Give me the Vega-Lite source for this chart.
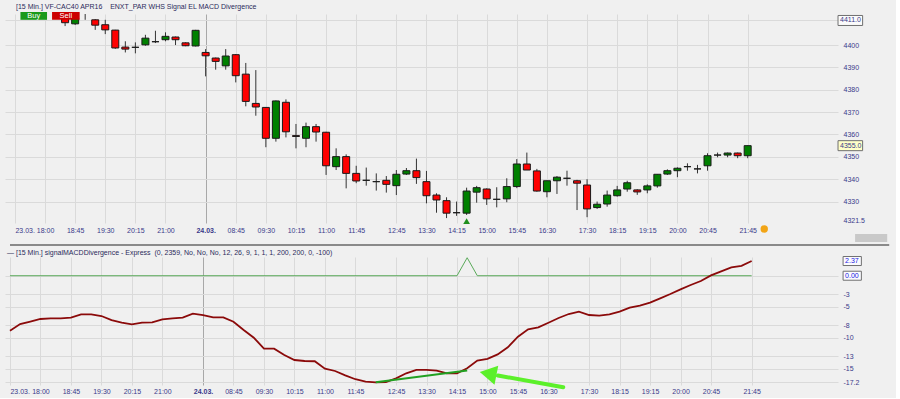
{
  "$schema": "https://vega.github.io/schema/vega-lite/v6.json",
  "background": "#f0f0f0",
  "padding": {"left": 5, "top": 2, "right": 5, "bottom": 2},
  "config": {
    "view": {"stroke": null, "fill": "#f0f0f0"},
    "font": "Liberation Sans Narrow, Liberation Sans",
    "axis": {"labelFont": "Liberation Sans Narrow, Liberation Sans", "labelFontSize": 7, "labelColor": "#3a3a8a", "domain": false, "ticks": false, "title": null, "gridColor": "#dadada", "labelOverlap": false, "labelFlush": false, "tickCount": 200}
  },
  "bounds": "flush",
  "spacing": 34,
  "datasets": {
    "candles": [
      {"i":5,"o":4413,"h":4415,"l":4408.5,"c":4410},
      {"i":6,"o":4409.5,"h":4413,"l":4409,"c":4412},
      {"i":7,"o":4416,"h":4418,"l":4411.3,"c":4417},
      {"i":8,"o":4411.3,"h":4411.6,"l":4406.8,"c":4408.9},
      {"i":9,"o":4409.1,"h":4411.3,"l":4404.9,"c":4406.8},
      {"i":10,"o":4406.7,"h":4406.8,"l":4398.3,"c":4398.7},
      {"i":11,"o":4399.1,"h":4401.7,"l":4396.7,"c":4398.2},
      {"i":12,"o":4399,"h":4401.2,"l":4396.3,"c":4399},
      {"i":13,"o":4400.1,"h":4404.6,"l":4399.7,"c":4403.1},
      {"i":14,"o":4401.5,"h":4406.4,"l":4400.9,"c":4401.5},
      {"i":15,"o":4402.4,"h":4405.7,"l":4401.7,"c":4403.9},
      {"i":16,"o":4403.6,"h":4403.8,"l":4400,"c":4402.4},
      {"i":17,"o":4401,"h":4401.2,"l":4399.5,"c":4399.7},
      {"i":18,"o":4399.6,"h":4406.8,"l":4399.4,"c":4406.6},
      {"i":19,"o":4396.7,"h":4398.2,"l":4386,"c":4395.2},
      {"i":20,"o":4394.2,"h":4394.4,"l":4389,"c":4392.7},
      {"i":21,"o":4390.7,"h":4398.2,"l":4389,"c":4395.1},
      {"i":22,"o":4395.7,"h":4396,"l":4383.3,"c":4386.3},
      {"i":23,"o":4387,"h":4392,"l":4372.6,"c":4374.8},
      {"i":24,"o":4373.9,"h":4388.8,"l":4368.4,"c":4372.3},
      {"i":25,"o":4372.1,"h":4372.3,"l":4354.3,"c":4358.3},
      {"i":26,"o":4358.3,"h":4375.2,"l":4356.8,"c":4375},
      {"i":27,"o":4374.4,"h":4375.7,"l":4358.7,"c":4361.2},
      {"i":28,"o":4359.5,"h":4364.7,"l":4353.8,"c":4359.1},
      {"i":29,"o":4358.3,"h":4365.3,"l":4354.3,"c":4363.5},
      {"i":30,"o":4363.5,"h":4364.7,"l":4356.8,"c":4361.1},
      {"i":31,"o":4361,"h":4361.2,"l":4341.9,"c":4346},
      {"i":32,"o":4345.6,"h":4353.8,"l":4344.1,"c":4350.1},
      {"i":33,"o":4350.1,"h":4351.1,"l":4335.9,"c":4342.6},
      {"i":34,"o":4342.6,"h":4346,"l":4338.2,"c":4339.2},
      {"i":35,"o":4339.5,"h":4345.2,"l":4337.1,"c":4339.5},
      {"i":36,"o":4338.9,"h":4342.6,"l":4334.9,"c":4338.9},
      {"i":37,"o":4339.5,"h":4341.4,"l":4334,"c":4337.7},
      {"i":38,"o":4337.1,"h":4344.1,"l":4332.9,"c":4342.2},
      {"i":39,"o":4342.3,"h":4345,"l":4341.9,"c":4343.8},
      {"i":40,"o":4343.8,"h":4349.2,"l":4337.9,"c":4340.7},
      {"i":41,"o":4338.9,"h":4343.7,"l":4329.2,"c":4332.6},
      {"i":42,"o":4332.9,"h":4333.7,"l":4325,"c":4330.7},
      {"i":43,"o":4330.4,"h":4331.9,"l":4322.6,"c":4324.8},
      {"i":44,"o":4325,"h":4330,"l":4323.6,"c":4325},
      {"i":45,"o":4324.8,"h":4336.2,"l":4324,"c":4334.7},
      {"i":46,"o":4334.2,"h":4337,"l":4329.5,"c":4336.2},
      {"i":47,"o":4335.6,"h":4335.9,"l":4328.5,"c":4331.2},
      {"i":48,"o":4331,"h":4336.4,"l":4327.4,"c":4331},
      {"i":49,"o":4331.2,"h":4340.4,"l":4329.7,"c":4336.7},
      {"i":50,"o":4336.7,"h":4349,"l":4336,"c":4346.8},
      {"i":51,"o":4346.8,"h":4351.9,"l":4344.1,"c":4344.1},
      {"i":52,"o":4343.7,"h":4344.6,"l":4334.4,"c":4334.7},
      {"i":53,"o":4334.4,"h":4339.3,"l":4331.9,"c":4339.3},
      {"i":54,"o":4339.3,"h":4341.4,"l":4333.4,"c":4340.9},
      {"i":55,"o":4340.4,"h":4343.8,"l":4337.1,"c":4340.4},
      {"i":56,"o":4339.3,"h":4339.7,"l":4326.2,"c":4338.2},
      {"i":57,"o":4337.4,"h":4340,"l":4323,"c":4326.7},
      {"i":58,"o":4327.3,"h":4330,"l":4326.7,"c":4328.8},
      {"i":59,"o":4328.9,"h":4334.9,"l":4327.7,"c":4332.9},
      {"i":60,"o":4332.6,"h":4337,"l":4332.2,"c":4335.2},
      {"i":61,"o":4335.6,"h":4339.3,"l":4334.4,"c":4338.4},
      {"i":62,"o":4335.2,"h":4335.5,"l":4333,"c":4334.3},
      {"i":63,"o":4335.2,"h":4337.7,"l":4333.7,"c":4337},
      {"i":64,"o":4337,"h":4342.2,"l":4336.2,"c":4342.2},
      {"i":65,"o":4342.3,"h":4344.4,"l":4341.9,"c":4343.8},
      {"i":66,"o":4343.8,"h":4345.3,"l":4340.9,"c":4344.9},
      {"i":67,"o":4345.6,"h":4347.1,"l":4343.8,"c":4345.6},
      {"i":68,"o":4344.6,"h":4346.4,"l":4342.6,"c":4344.6},
      {"i":69,"o":4346,"h":4351.6,"l":4343.8,"c":4350.5},
      {"i":70,"o":4350.8,"h":4351.9,"l":4349.8,"c":4350.8},
      {"i":71,"o":4350.8,"h":4351.9,"l":4349.8,"c":4351.7},
      {"i":72,"o":4351.7,"h":4351.9,"l":4349.4,"c":4350.5},
      {"i":73,"o":4350.5,"h":4355,"l":4349.4,"c":4355}
    ],
    "signals": [{"i": 45, "p": 4321.2}],
    "buttons": [{"label": "Buy"}, {"label": "Sell"}],
    "pricemarks": [{"p": 4411, "label": "4411.0"}, {"p": 4355, "label": "4355.0"}],
    "macdmarks": [{"v": 2.37, "label": "2.37"}, {"v": 0, "label": "0.00"}],
    "macd": [
      {"i":0,"v":-8.87},{"i":1,"v":-7.8},{"i":2,"v":-7.4},{"i":3,"v":-6.98},{"i":4,"v":-6.88},
      {"i":5,"v":-6.88},{"i":6,"v":-6.77},{"i":7,"v":-6.23},{"i":8,"v":-6.23},{"i":9,"v":-6.5},
      {"i":10,"v":-7.15},{"i":11,"v":-7.58},{"i":12,"v":-7.84},{"i":13,"v":-7.58},{"i":14,"v":-7.52},
      {"i":15,"v":-7.04},{"i":16,"v":-6.88},{"i":17,"v":-6.77},{"i":18,"v":-6.12},{"i":19,"v":-6.34},
      {"i":20,"v":-6.71},{"i":21,"v":-6.71},{"i":22,"v":-7.42},{"i":23,"v":-8.76},{"i":24,"v":-10},
      {"i":25,"v":-11.77},{"i":26,"v":-11.77},{"i":27,"v":-12.8},{"i":28,"v":-13.6},{"i":29,"v":-13.76},
      {"i":30,"v":-13.8},{"i":31,"v":-15},{"i":32,"v":-15.37},{"i":33,"v":-16.07},{"i":34,"v":-16.7},
      {"i":35,"v":-17.1},{"i":36,"v":-17.2},{"i":37,"v":-17.15},{"i":38,"v":-16.55},{"i":39,"v":-15.74},
      {"i":40,"v":-15.2},{"i":41,"v":-15.2},{"i":42,"v":-15.3},{"i":43,"v":-15.74},{"i":44,"v":-15.74},
      {"i":45,"v":-14.94},{"i":46,"v":-13.7},{"i":47,"v":-13.4},{"i":48,"v":-12.7},{"i":49,"v":-11.55},
      {"i":50,"v":-9.84},{"i":51,"v":-8.65},{"i":52,"v":-8.33},{"i":53,"v":-7.58},{"i":54,"v":-6.82},
      {"i":55,"v":-6.18},{"i":56,"v":-5.8},{"i":57,"v":-6.34},{"i":58,"v":-6.45},{"i":59,"v":-6.23},
      {"i":60,"v":-5.8},{"i":61,"v":-5.16},{"i":62,"v":-4.84},{"i":63,"v":-4.35},{"i":64,"v":-3.65},
      {"i":65,"v":-2.95},{"i":66,"v":-2.2},{"i":67,"v":-1.5},{"i":68,"v":-0.85},{"i":69,"v":0.06},
      {"i":70,"v":0.7},{"i":71,"v":1.35},{"i":72,"v":1.6},{"i":73,"v":2.37}
    ],
    "sigline": [
      {"i":0,"s":0},{"i":44,"s":0},{"i":45,"s":2.9},{"i":46,"s":0},{"i":73,"s":0}
    ],
    "divergence": [
      {"i":36,"v":-17.2},{"i":45,"v":-15.3}
    ],
    "arrow": [
      {"i":54.46,"v":-17.98},{"i":48.02,"v":-16.1}
    ],
    "arrowhead": [{"i":47.06,"v":-15.79}]
  },
  "vconcat": [
    {
      "width": 833,
      "height": 209,
      "title": {"text": "[15 Min.] VF-CAC40 APR16\u00a0\u00a0\u00a0 ENXT_PAR WHS Signal EL MACD Divergence", "anchor": "start", "frame": "group", "fontSize": 7, "fontWeight": "normal", "font": "Liberation Sans Narrow, Liberation Sans", "color": "#2b2b5b", "offset": 2, "dx": 11},
      "layer": [
        {
          "data": {"name": "candles"},
          "mark": {"type": "rule", "color": "#333333", "strokeWidth": 1, "clip": true},
          "encoding": {
            "x": {"field": "i", "type": "quantitative",
              "scale": {"domain": [-0.49, 81.5], "nice": false, "zero": false},
              "axis": {
                "values": [0,3,6,9,12,15,19,22,25,28,31,34,38,41,44,47,50,53,57,60,63,66,69,73],
                "tickCount": 200,
                "labelExpr": "['23.03.','18:00','18:45','19:30','20:15','21:00','24.03.','08:45','09:30','10:15','11:00','11:45','12:45','13:30','14:15','15:00','15:45','16:30','17:30','18:15','19:15','20:00','20:45','21:45'][indexof([0,3,6,9,12,15,19,22,25,28,31,34,38,41,44,47,50,53,57,60,63,66,69,73], datum.value)]",
                "labelOverlap": false,
                "grid": true,
                "gridColor": {"condition": {"test": "datum.value === 19", "value": "#a8a8a8"}, "value": "#dadada"},
                "labelAlign": {"condition": {"test": "datum.value === 0", "value": "left"}, "value": "center"},
                "labelFontWeight": {"condition": {"test": "datum.value === 19", "value": "bold"}, "value": "normal"},
                "labelPadding": 3
              }
            },
            "y": {"field": "l", "type": "quantitative",
              "scale": {"domain": [4320.4, 4413.9], "nice": false, "zero": false},
              "axis": {
                "orient": "right",
                "values": [4321.5,4330,4340,4350,4355,4360,4370,4380,4390,4400,4411],
                "tickCount": 200,
                "labelExpr": "(datum.value === 4411 || datum.value === 4355) ? '' : toString(datum.value)",
                "labelOverlap": false,
                "grid": true,
                "gridColor": {"condition": {"test": "datum.value === 4355 || datum.value === 4321.5", "value": "transparent"}, "value": "#dadada"},
                "labelPadding": 5
              }
            },
            "y2": {"field": "h"}
          }
        },
        {
          "data": {"name": "candles"},
          "mark": {"type": "bar", "width": 7, "stroke": "#1a1a1a", "strokeWidth": 1, "clip": true},
          "encoding": {
            "x": {"field": "i", "type": "quantitative"},
            "y": {"field": "o", "type": "quantitative"},
            "y2": {"field": "c"},
            "fill": {"condition": {"test": "datum.c > datum.o", "value": "#008000"}, "value": "#ff0000"}
          }
        },
        {
          "data": {"name": "signals"},
          "mark": {"type": "point", "shape": "triangle-up", "filled": true, "color": "#1f8f1f", "size": 45, "opacity": 1},
          "encoding": {
            "x": {"field": "i", "type": "quantitative"},
            "y": {"field": "p", "type": "quantitative"}
          }
        },
        {
          "data": {"name": "pricemarks"},
          "layer": [
            {
              "mark": {"type": "rect", "stroke": "#707070", "strokeWidth": 1, "yOffset": -5, "y2Offset": 5},
              "encoding": {
                "x": {"datum": 82.0, "type": "quantitative"}, "x2": {"datum": 84.45},
                "y": {"field": "p", "type": "quantitative"}, "y2": {"field": "p"},
                "fill": {"condition": {"test": "datum.p === 4355", "value": "#ffffc8"}, "value": "#fbfbfb"}
              }
            },
            {
              "mark": {"type": "text", "align": "left", "baseline": "middle", "fontSize": 7, "color": "#3a3a8a", "dx": 2},
              "encoding": {
                "x": {"datum": 82.0, "type": "quantitative"},
                "y": {"field": "p", "type": "quantitative"},
                "text": {"field": "label"}
              }
            }
          ]
        },
        {
          "data": {"name": "buttons"},
          "transform": [{"filter": "datum.label === 'Buy'"}],
          "layer": [
            {
              "mark": {"type": "rect", "color": "#1a9a1a"},
              "encoding": {"x": {"datum": 0.55, "type": "quantitative"}, "x2": {"datum": 3.2}, "y": {"datum": 4411.3, "type": "quantitative"}, "y2": {"datum": 4414.8}}
            },
            {
              "mark": {"type": "text", "color": "#ffffff", "fontSize": 7.5, "baseline": "middle"},
              "encoding": {"x": {"datum": 1.87, "type": "quantitative"}, "y": {"datum": 4413.05, "type": "quantitative"}, "text": {"field": "label"}}
            },
            {
              "mark": {"type": "rule", "color": "#8a8a8a", "strokeWidth": 2},
              "encoding": {"x": {"datum": -0.49, "type": "quantitative"}, "x2": {"datum": 87.1}, "y": {"datum": 4310.6, "type": "quantitative"}}
            },
            {
              "mark": {"type": "rect", "color": "#c9c9c9"},
              "encoding": {"x": {"datum": 83.7, "type": "quantitative"}, "x2": {"datum": 86.9}, "y": {"datum": 4315.5, "type": "quantitative"}, "y2": {"datum": 4311.9}}
            },
            {
              "mark": {"type": "point", "filled": true, "color": "#f2a516", "size": 55, "opacity": 1},
              "encoding": {"x": {"datum": 74.65, "type": "quantitative"}, "y": {"datum": 4317.75, "type": "quantitative"}}
            }
          ]
        },
        {
          "data": {"name": "buttons"},
          "transform": [{"filter": "datum.label === 'Sell'"}],
          "layer": [
            {
              "mark": {"type": "rect", "color": "#cc0000"},
              "encoding": {"x": {"datum": 3.7, "type": "quantitative"}, "x2": {"datum": 6.45}, "y": {"datum": 4411.3, "type": "quantitative"}, "y2": {"datum": 4414.8}}
            },
            {
              "mark": {"type": "text", "color": "#ffffff", "fontSize": 7.5, "baseline": "middle"},
              "encoding": {"x": {"datum": 5.07, "type": "quantitative"}, "y": {"datum": 4413.05, "type": "quantitative"}, "text": {"field": "label"}}
            }
          ]
        }
      ]
    },
    {
      "width": 833,
      "height": 128,
      "title": {"text": "— [15 Min.] signalMACDDivergence - Express\u00a0 (0, 2359, No, No, No, 12, 26, 9, 1, 1, 1, 200, 200, 0, -100)", "anchor": "start", "frame": "group", "fontSize": 7, "fontWeight": "normal", "font": "Liberation Sans Narrow, Liberation Sans", "color": "#2b2b5b", "offset": 0, "dx": 2},
      "layer": [
        {
          "data": {"name": "sigline"},
          "mark": {"type": "line", "color": "#5aaa5a", "strokeWidth": 1},
          "encoding": {
            "x": {"field": "i", "type": "quantitative",
              "scale": {"domain": [-0.49, 81.5], "nice": false, "zero": false},
              "axis": {
                "values": [0,3,6,9,12,15,19,22,25,28,31,34,38,41,44,47,50,53,57,60,63,66,69,73],
                "tickCount": 200,
                "labelExpr": "['23.03.','18:00','18:45','19:30','20:15','21:00','24.03.','08:45','09:30','10:15','11:00','11:45','12:45','13:30','14:15','15:00','15:45','16:30','17:30','18:15','19:15','20:00','20:45','21:45'][indexof([0,3,6,9,12,15,19,22,25,28,31,34,38,41,44,47,50,53,57,60,63,66,69,73], datum.value)]",
                "labelOverlap": false,
                "grid": true,
                "gridColor": {"condition": {"test": "datum.value === 19", "value": "#a8a8a8"}, "value": "#dadada"},
                "labelAlign": {"condition": {"test": "datum.value === 0", "value": "left"}, "value": "center"},
                "labelFontWeight": {"condition": {"test": "datum.value === 19", "value": "bold"}, "value": "normal"},
                "labelPadding": 2
              }
            },
            "y": {"field": "s", "type": "quantitative",
              "scale": {"domain": [-17.63, 3.02], "nice": false, "zero": false},
              "axis": {
                "orient": "right",
                "values": [2.37, 0, -3, -5, -8, -10, -13, -15, -17.2],
                "tickCount": 200,
                "labelExpr": "(datum.value === 0 || datum.value === 2.37) ? '' : toString(datum.value)",
                "labelOverlap": false,
                "grid": true,
                "gridColor": {"condition": {"test": "datum.value === 2.37", "value": "transparent"}, "value": "#dadada"},
                "labelPadding": 5
              }
            }
          }
        },
        {
          "data": {"name": "macd"},
          "mark": {"type": "line", "color": "#8b0a0a", "strokeWidth": 1.8},
          "encoding": {
            "x": {"field": "i", "type": "quantitative"},
            "y": {"field": "v", "type": "quantitative"}
          }
        },
        {
          "data": {"name": "divergence"},
          "mark": {"type": "line", "color": "#22a022", "strokeWidth": 2},
          "encoding": {
            "x": {"field": "i", "type": "quantitative"},
            "y": {"field": "v", "type": "quantitative"}
          }
        },
        {
          "data": {"name": "macdmarks"},
          "layer": [
            {
              "mark": {"type": "rect", "stroke": "#707070", "strokeWidth": 1, "fill": "#fbfbff", "yOffset": -4.5, "y2Offset": 4.5},
              "encoding": {
                "x": {"datum": 82.0, "type": "quantitative"}, "x2": {"datum": 83.8},
                "y": {"field": "v", "type": "quantitative"}, "y2": {"field": "v"}
              }
            },
            {
              "mark": {"type": "text", "align": "left", "baseline": "middle", "fontSize": 7, "color": "#2020e0", "dx": 2},
              "encoding": {
                "x": {"datum": 82.0, "type": "quantitative"},
                "y": {"field": "v", "type": "quantitative"},
                "text": {"field": "label"}
              }
            }
          ]
        },
        {
          "data": {"name": "arrow"},
          "mark": {"type": "line", "color": "#5cf02a", "strokeWidth": 4, "strokeCap": "round"},
          "encoding": {
            "x": {"field": "i", "type": "quantitative"},
            "y": {"field": "v", "type": "quantitative"}
          }
        },
        {
          "data": {"name": "arrowhead"},
          "mark": {"type": "point", "shape": "triangle-left", "filled": true, "color": "#5cf02a", "size": 380, "angle": 11, "opacity": 1},
          "encoding": {
            "x": {"field": "i", "type": "quantitative"},
            "y": {"field": "v", "type": "quantitative"}
          }
        }
      ]
    }
  ]
}
